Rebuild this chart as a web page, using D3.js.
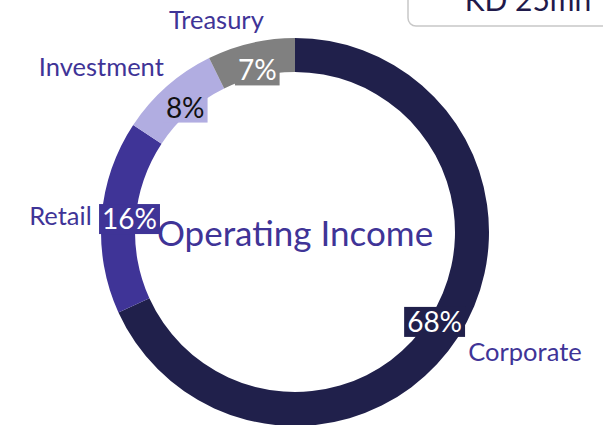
<!DOCTYPE html>
<html>
<head>
<meta charset="utf-8">
<script src="https://cdn.jsdelivr.net/npm/d3@7"></script>
<style>
  body { margin: 0; background: #fff; }
  svg { display: block; font-family: Lato, "Open Sans", sans-serif; }
</style>
</head>
<body>
<svg id="chart"></svg>
<script>
const segments = ['Corporate', 'Retail', 'Investment', 'Treasury'];
const shares = [68.2, 16.1, 8.4, 7.3];
const shareLabels = ['68%', '16%', '8%', '7%'];
const colors = ['#20204b', '#3f3497', '#b1ade1', '#808080'];
const labelInk = ['#fff', '#fff', '#111', '#fff'];
const centerTitle = 'Operating Income';
const totalNote = 'KD 25mn';

const width = 603;
const height = 425;
const cx = 295;
const cy = 232;
const outerR = 194;
const innerR = 160;

// hand tweaks so the names sit where the original put them
const nameNudge = [[-5, 5], [8, 1], [9, -6], [17, -5]];

const chart = d3.select('#chart')
  .attr('width', width)
  .attr('height', height);

// box peeking in at the top right
chart.append('rect')
  .attr('x', 408)
  .attr('y', -20)
  .attr('width', 230)
  .attr('height', 46)
  .attr('rx', 8)
  .attr('fill', '#fff')
  .attr('stroke', '#c8c8c8')
  .attr('stroke-width', 1.5);

chart.append('text')
  .attr('x', 528)
  .attr('y', 11)
  .attr('text-anchor', 'middle')
  .attr('font-size', 30)
  .attr('fill', '#1f1a4b')
  .text(totalNote);

const data = segments.map((name, i) => ({name, value: shares[i], i}));

const pie = d3.pie()
  .sort(null)
  .value(d => d.value);

const arc = d3.arc()
  .innerRadius(innerR)
  .outerRadius(outerR);

const labelArc = d3.arc()
  .innerRadius(166)
  .outerRadius(166);

const nameArc = d3.arc()
  .innerRadius(212)
  .outerRadius(212);

const g = chart.append('g')
  .attr('transform', `translate(${cx}, ${cy})`);

const arcs = pie(data);

g.selectAll('path')
  .data(arcs)
  .enter()
  .append('path')
  .attr('d', arc)
  .attr('fill', d => colors[d.data.i]);

g.append('text')
  .attr('x', 0)
  .attr('y', 2)
  .attr('dy', '0.35em')
  .attr('text-anchor', 'middle')
  .attr('font-size', 35)
  .attr('fill', '#3f3497')
  .text(centerTitle);

// percentage tags with a box in the slice colour
const tag = g.selectAll('.tag')
  .data(arcs)
  .enter()
  .append('g')
  .attr('class', 'tag')
  .attr('transform', d => `translate(${labelArc.centroid(d)})`);

tag.append('text')
  .attr('text-anchor', 'middle')
  .attr('dy', '0.36em')
  .attr('font-size', 28)
  .attr('fill', d => labelInk[d.data.i])
  .text(d => shareLabels[d.data.i]);

tag.each(function(d) {
  const t = d3.select(this).select('text');
  const b = t.node().getBBox();
  d3.select(this).insert('rect', 'text')
    .attr('x', b.x - 3)
    .attr('y', b.y + 3)
    .attr('width', b.width + 6)
    .attr('height', b.height - 4)
    .attr('fill', colors[d.data.i]);
});

// segment names outside the ring
g.selectAll('.name')
  .data(arcs)
  .enter()
  .append('text')
  .attr('class', 'name')
  .attr('transform', d => {
    const [x, y] = nameArc.centroid(d);
    const [nx, ny] = nameNudge[d.data.i];
    return `translate(${x + nx}, ${y + ny})`;
  })
  .attr('dy', '0.35em')
  .attr('text-anchor', d => (d.startAngle + d.endAngle) / 2 < Math.PI ? 'start' : 'end')
  .attr('font-size', 25.5)
  .attr('fill', '#3f3497')
  .text(d => d.data.name);
</script>
</body>
</html>
